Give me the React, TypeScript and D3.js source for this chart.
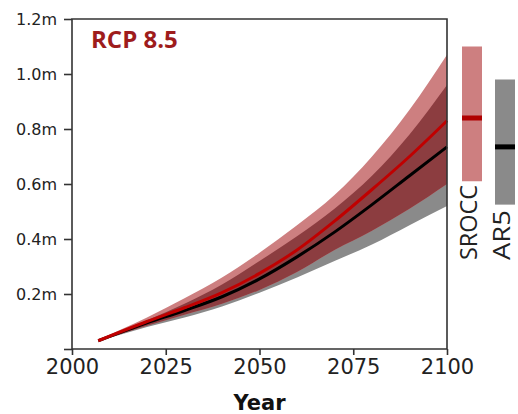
import * as d3 from 'd3';
import React, { FC, useEffect } from 'react';

const years = [2007, 2020, 2030, 2040, 2050, 2060, 2070, 2080, 2090, 2100];
const sroccMedian = [0.03, 0.1, 0.15, 0.205, 0.275, 0.36, 0.465, 0.58, 0.7, 0.83];
const sroccLow = [0.03, 0.085, 0.125, 0.165, 0.215, 0.28, 0.36, 0.43, 0.51, 0.6];
const sroccHigh = [0.035, 0.115, 0.185, 0.26, 0.35, 0.45, 0.56, 0.7, 0.87, 1.07];
const ar5Median = [0.03, 0.095, 0.14, 0.19, 0.255, 0.335, 0.425, 0.525, 0.63, 0.735];
const ar5Low = [0.028, 0.08, 0.115, 0.155, 0.205, 0.26, 0.32, 0.38, 0.45, 0.52];
const ar5High = [0.032, 0.105, 0.165, 0.235, 0.32, 0.41, 0.51, 0.63, 0.78, 0.96];

const xTicks = [2000, 2025, 2050, 2075, 2100];
const yTicks = [0, 0.2, 0.4, 0.6, 0.8, 1.0, 1.2];

// 2100 ranges shown as bars on the right
const bars = [
	{ name: 'SROCC', low: 0.61, high: 1.1, median: 0.84, fill: '#cd7f80', line: '#b00000' },
	{ name: 'AR5', low: 0.525, high: 0.98, median: 0.735, fill: '#8a8a8a', line: '#000000' },
];

const App: FC = () => {
	const containerDiv = React.useRef<HTMLDivElement>(null);
	const width = 518;
	const height = 414;
	const margin = { top: 19, right: 71, bottom: 65, left: 72 };

	const build = () => {
		const x = d3.scaleLinear().domain([2000, 2100]).range([margin.left, width - margin.right]);
		const y = d3.scaleLinear().domain([0, 1.2]).range([height - margin.bottom, margin.top]);

		const svg = d3
			.create('svg')
			.attr('width', width)
			.attr('height', height)
			.attr('viewBox', `0 0 ${width} ${height}`)
			.style('display', 'block');

		svg.append('rect').attr('width', width).attr('height', height).attr('fill', 'white');

		const rows = years.map((yr, i) => ({
			yr,
			sm: sroccMedian[i],
			sl: sroccLow[i],
			sh: sroccHigh[i],
			am: ar5Median[i],
			al: ar5Low[i],
			ah: ar5High[i],
		}));

		const curve = d3.curveMonotoneX;
		const band = (lo: (d: any) => number, hi: (d: any) => number) =>
			d3
				.area<any>()
				.x((d) => x(d.yr))
				.y0((d) => y(lo(d)))
				.y1((d) => y(hi(d)))
				.curve(curve);

		const g = svg.append('g');
		g.append('path').datum(rows).attr('fill', '#8a8a8a').attr('d', band((d) => d.al, (d) => d.ah));
		g.append('path').datum(rows).attr('fill', '#cd7f80').attr('d', band((d) => d.sl, (d) => d.sh));
		g.append('path')
			.datum(rows)
			.attr('fill', '#8c3d40')
			.attr('d', band((d) => Math.max(d.sl, d.al), (d) => Math.min(d.sh, d.ah)));

		const line = (f: (d: any) => number) =>
			d3
				.line<any>()
				.x((d) => x(d.yr))
				.y((d) => y(f(d)))
				.curve(curve);
		g.append('path').datum(rows).attr('fill', 'none').attr('stroke', '#000').attr('stroke-width', 3).attr('d', line((d) => d.am));
		g.append('path').datum(rows).attr('fill', 'none').attr('stroke', '#c00000').attr('stroke-width', 3).attr('d', line((d) => d.sm));

		// frame
		const axisColor = '#333';
		svg.append('path')
			.attr('fill', 'none')
			.attr('stroke', axisColor)
			.attr('stroke-width', 1.6)
			.attr('d', `M${x(2000)},${y(0)}V${y(1.2)}H${x(2100)}V${y(0)}Z`);

		// y axis
		const yAxis = (sel: any) =>
			sel
				.attr('transform', `translate(${x(2000)},0)`)
				.call(
					d3
						.axisLeft(y)
						.tickValues(yTicks)
						.tickSize(8)
						.tickPadding(7)
						.tickFormat((d: any) => (d === 0 ? '' : `${d3.format('.1f')(d)}m`))
				)
				.call((s: any) => s.select('.domain').remove())
				.call((s: any) => s.selectAll('line').attr('stroke', axisColor).attr('stroke-width', 1.6))
				.call((s: any) =>
					s.selectAll('text').attr('font-family', 'DejaVu Sans').attr('font-size', 16).attr('fill', '#222')
				);
		svg.append('g').call(yAxis);

		// x axis
		const xAxis = (sel: any) =>
			sel
				.attr('transform', `translate(0,${y(0)})`)
				.call(d3.axisBottom(x).tickValues(xTicks).tickSize(6).tickPadding(4).tickFormat(d3.format('d')))
				.call((s: any) => s.select('.domain').remove())
				.call((s: any) => s.selectAll('line').attr('stroke', axisColor).attr('stroke-width', 1.6))
				.call((s: any) =>
					s.selectAll('text').attr('font-family', 'DejaVu Sans').attr('font-size', 21).attr('fill', '#222')
				);
		svg.append('g').call(xAxis);

		svg.append('text')
			.attr('x', x(2050))
			.attr('y', 410)
			.attr('text-anchor', 'middle')
			.attr('font-family', 'DejaVu Sans')
			.attr('font-weight', 'bold')
			.attr('font-size', 21)
			.attr('fill', '#111')
			.text('Year');

		svg.append('text')
			.attr('x', 91)
			.attr('y', 48)
			.attr('font-family', 'Open Sans')
			.attr('font-weight', 'bold')
			.attr('font-size', 24)
			.attr('fill', '#9e1c1c')
			.text('RCP 8.5');

		// side bars
		const bx = d3.scaleBand().domain(bars.map((b) => b.name)).range([462, 515]).paddingInner(0.394).paddingOuter(0);
		const bg = svg.append('g').selectAll('g').data(bars).join('g');
		bg.append('rect')
			.attr('x', (d) => bx(d.name) as number)
			.attr('width', bx.bandwidth())
			.attr('y', (d) => y(d.high))
			.attr('height', (d) => y(d.low) - y(d.high))
			.attr('fill', (d) => d.fill);
		bg.append('rect')
			.attr('x', (d) => bx(d.name) as number)
			.attr('width', bx.bandwidth())
			.attr('y', (d) => y(d.median) - 2.5)
			.attr('height', 5)
			.attr('fill', (d) => d.line);
		bg.append('text')
			.attr('transform', (d) => `translate(${(bx(d.name) as number) + bx.bandwidth() - 5},260) rotate(-90)`)
			.attr('font-family', 'Open Sans')
			.attr('font-size', 24)
			.attr('fill', '#222')
			.attr('textLength', (d) => (d.name === 'SROCC' ? 75 : 50))
			.attr('lengthAdjust', 'spacingAndGlyphs')
			.text((d) => d.name);

		return svg.node();
	};

	useEffect(() => {
		const chart = build();
		const container = containerDiv.current as HTMLDivElement;
		if (container && chart) {
			container.firstChild && container.removeChild(container.firstChild);
			container.appendChild(chart);
		}
	}, []);

	return <div ref={containerDiv} style={{ position: 'absolute', left: 0, top: 0 }}></div>;
};

export default App;
